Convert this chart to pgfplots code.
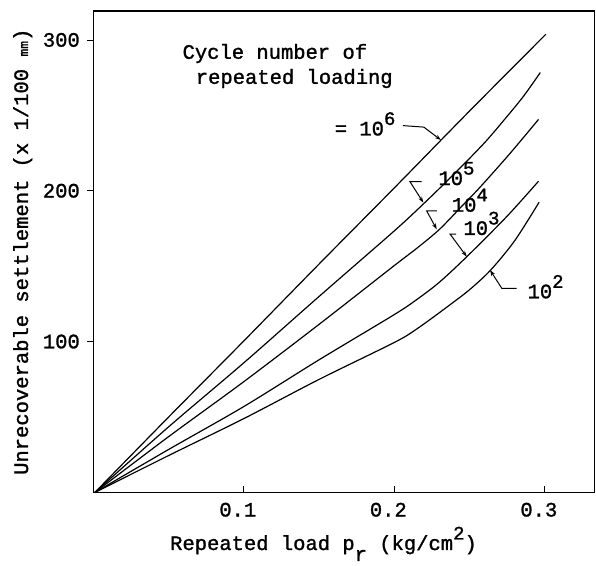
\documentclass[border=0pt]{standalone}
\usepackage{fontspec}
\setmainfont{Liberation Mono}[RawFeature={embolden=1.3}]
\usepackage{pgfplots}
\pgfplotsset{compat=1.18}
\usetikzlibrary{arrows.meta}
\newcommand{\up}[1]{\raisebox{10.5bp}{\fontsize{19bp}{19bp}\selectfont #1}}
\newcommand{\dn}[1]{\raisebox{-11bp}{#1}}
\begin{document}
\fontsize{20.5bp}{24bp}\selectfont
\begin{tikzpicture}
\begin{axis}[
  scale only axis, width=501.2bp, height=481.5bp,
  xmin=0, xmax=0.333, ymin=0, ymax=319.3,
  clip=false,
  axis line style={line width=1.5bp},
  tick pos=left, tick align=inside, major tick length=6.5bp,
  tick style={black, line width=1bp},
  every y tick/.append style={xshift=-6.5bp},
  xtick={0.1,0.2,0.3}, xticklabels={0.1,0.2,0.3},
  ytick={100,200,300}, yticklabels={100,200,300},
  xticklabel style={anchor=base, inner sep=0pt, yshift=-24bp, xshift=-6bp},
  yticklabel style={anchor=base east, inner sep=0pt, xshift=-13.3bp, yshift=-6.6bp},
  curve/.style={line width=1.2bp, black, no markers, smooth, tension=0.5},
]
% 10^6
\addplot[curve] coordinates {(0.001,0) (0.05,50) (0.1,100.5) (0.15,151.5) (0.2,202) (0.25,253) (0.3007,303.9)};
% 10^5
\addplot[curve] coordinates {(0.001,0) (0.05,43.5) (0.1,86) (0.15,130) (0.2,173.5) (0.22,192) (0.24,211.5) (0.26,232) (0.275,249.5) (0.286,263) (0.297,278.5)};
% 10^4
\addplot[curve] coordinates {(0.001,0) (0.05,37) (0.1,73.5) (0.15,111.5) (0.2,150.5) (0.215,162) (0.23,174.5) (0.245,190) (0.257,202.5) (0.277,225) (0.2958,247.4)};
% 10^3
\addplot[curve] coordinates {(0.001,0) (0.05,28.5) (0.1,57) (0.15,88) (0.2,118) (0.215,128) (0.23,139.5) (0.2484,156.6) (0.2749,183.2) (0.2958,206.4)};
% 10^2
\addplot[curve] coordinates {(0.001,0) (0.05,24.5) (0.1,49) (0.15,75) (0.2,99.5) (0.215,108.5) (0.235,123) (0.25,134.5) (0.264,147.5) (0.28,167) (0.2962,192.5)};

% annotations
\node[anchor=base west, inner sep=0pt] at (axis cs:0.0592,287.6) {Cycle number of};
\node[anchor=base west, inner sep=0pt] at (axis cs:0.0680,271.0) {repeated loading};
\node[anchor=base west, inner sep=0pt] at (axis cs:0.1603,236.8) {= 10\up{6}};
\draw[line width=1bp, -{Stealth[length=6bp,width=4bp]}] (axis cs:0.2057,243.3) -- (axis cs:0.2196,242.3) -- (axis cs:0.2310,233.7);
\node[anchor=base west, inner sep=0pt] at (axis cs:0.2292,203.9) {10\up{5}};
\draw[line width=1bp, -{Stealth[length=6bp,width=4bp]}] (axis cs:0.2182,206.1) -- (axis cs:0.2104,206.1) -- (axis cs:0.2193,192.2);
\node[anchor=base west, inner sep=0pt] at (axis cs:0.2381,186.2) {10\up{4}};
\draw[line width=1bp, -{Stealth[length=6bp,width=4bp]}] (axis cs:0.2282,186.7) -- (axis cs:0.2215,186.7) -- (axis cs:0.2282,174.5);
\node[anchor=base west, inner sep=0pt] at (axis cs:0.2458,170.8) {10\up{3}};
\draw[line width=1bp, -{Stealth[length=6bp,width=4bp]}] (axis cs:0.2410,171.4) -- (axis cs:0.2370,171.4) -- (axis cs:0.2481,156.4);
\node[anchor=base west, inner sep=0pt] at (axis cs:0.2884,128.8) {10\up{2}};
\draw[line width=1bp, -{Stealth[length=6bp,width=4bp]}] (axis cs:0.2813,135.4) -- (axis cs:0.2714,135.4) -- (axis cs:0.2636,147.5);

% axis labels
\node[rotate=90, anchor=base, inner sep=0pt] at (rel axis cs:-0.1303,0.5) {Unrecoverable settlement (x 1/100 {\fontsize{13bp}{13bp}\selectfont mm})};
\node[anchor=base west, inner sep=0pt] at (rel axis cs:0.153,-0.1194) {Repeated load p\dn{r} (kg/cm\up{2})};
\end{axis}
\pgfresetboundingbox
\path[use as bounding box] ([shift={(-93.3bp,-73.5bp)}]current axis.south west) rectangle ([shift={(1.5bp,11bp)}]current axis.north east);
\end{tikzpicture}
\end{document}
